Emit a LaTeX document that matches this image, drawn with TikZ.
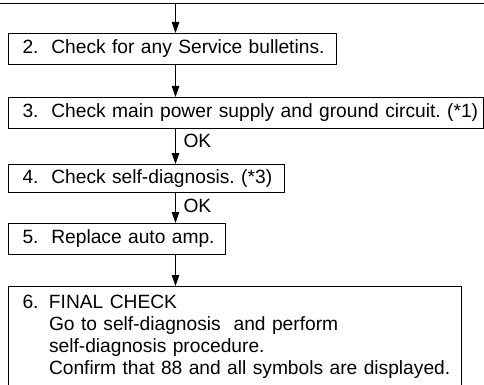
\documentclass[tikz,border=0pt]{standalone}
\usepackage{fontspec}
\setmainfont{Liberation Sans}
\usetikzlibrary{arrows.meta}
\begin{document}
\frenchspacing
\begin{tikzpicture}[x=1pt,y=-1pt,line width=1pt,
  box/.style={draw,rectangle,anchor=north west,inner xsep=14pt,inner ysep=0pt,align=left,
    font=\fontsize{19.2}{22.3}\selectfont\frenchspacing},
  oktxt/.style={anchor=west,inner sep=0pt,font=\fontsize{19.2}{22.3}\selectfont},
  flow/.style={-{Triangle[width=7.5pt,length=11pt]}}]
\useasboundingbox (0,0) rectangle (484,385);
\clip (0,0) rectangle (484,385);
\coordinate (tl) at (0,4);
\coordinate (tr) at (484,4);
\coordinate (top) at (175.5,4);
\node[box,minimum height=31pt,text width=300pt] (b2) at (8,33) {\mbox{2.\ \ Check for any Service bulletins.}};
\node[box,minimum height=31pt,text width=447pt] (b3) at (8,97) {\mbox{3.\ \ Check main power supply and ground circuit. (*1)}};
\node[box,minimum height=28pt,text width=248pt] (b4) at (8,164) {\mbox{4.\ \ Check self-diagnosis. (*3)}};
\node[box,minimum height=31pt,text width=189pt] (b5) at (8,223) {\mbox{5.\ \ Replace auto amp.}};
\node[box,minimum height=101pt,text width=425pt] (b6) at (8,286) {\begin{tabular}{@{}l@{\hspace{10.5pt}}l@{}}
6. & FINAL CHECK\\
 & Go to self-diagnosis\ \ and perform\\
 & self-diagnosis procedure.\\
 & Confirm that 88 and all symbols are displayed.
\end{tabular}};
\draw (tl) -- (tr);
\draw[flow] (top) -- (top |- b2.north);
\draw[flow] (top |- b2.south) -- (top |- b3.north);
\draw[flow] (top |- b3.south) -- (top |- b4.north);
\draw[flow] (top |- b4.south) -- (top |- b5.north);
\draw[flow] (top |- b5.south) -- (top |- b6.north);
\node[oktxt] (ok1) at (183,141) {OK};
\node[oktxt] (ok2) at (183,206) {OK};
\end{tikzpicture}
\end{document}
